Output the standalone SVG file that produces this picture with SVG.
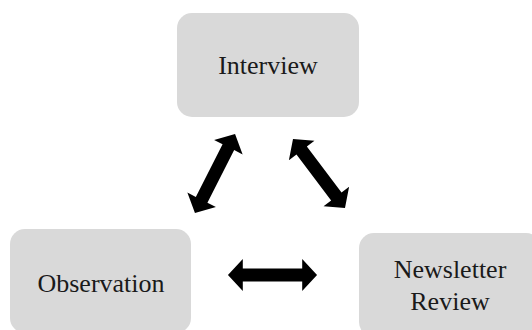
<svg xmlns="http://www.w3.org/2000/svg" width="532" height="330" viewBox="0 0 532 330">
  <style>
    .box { fill: #d9d9d9; }
    .lbl { font-family: "Liberation Serif", "Times New Roman", serif; font-size: 26px; fill: #1a1a1a; text-anchor: middle; }
    .arr { fill: #000000; }
  </style>
  <defs>
    <polygon id="dbl" points="-45,0 -30,-16 -30,-6.5 30,-6.5 30,-16 45,0 30,16 30,6.5 -30,6.5 -30,16"/>
  </defs>
  <rect width="532" height="330" fill="#ffffff"/>
  <g id="interview">
    <rect class="box" x="177" y="13" width="182" height="104" rx="15"/>
    <text class="lbl" x="268" y="74">Interview</text>
  </g>
  <g id="observation">
    <rect class="box" x="10" y="229" width="181" height="104" rx="15"/>
    <text class="lbl" x="101" y="292">Observation</text>
  </g>
  <g id="newsletter">
    <rect class="box" x="359" y="233" width="182" height="104" rx="15"/>
    <text class="lbl" x="450" y="278">Newsletter</text>
    <text class="lbl" x="450" y="310">Review</text>
  </g>
  <g id="connectors" class="arr">
    <use href="#dbl" transform="translate(215,173.5) rotate(-63.1) scale(0.985,1)"/>
    <use href="#dbl" transform="translate(319,173.5) rotate(53) scale(0.96,1)"/>
    <use href="#dbl" transform="translate(272.5,275) scale(0.99,1)"/>
  </g>
</svg>
